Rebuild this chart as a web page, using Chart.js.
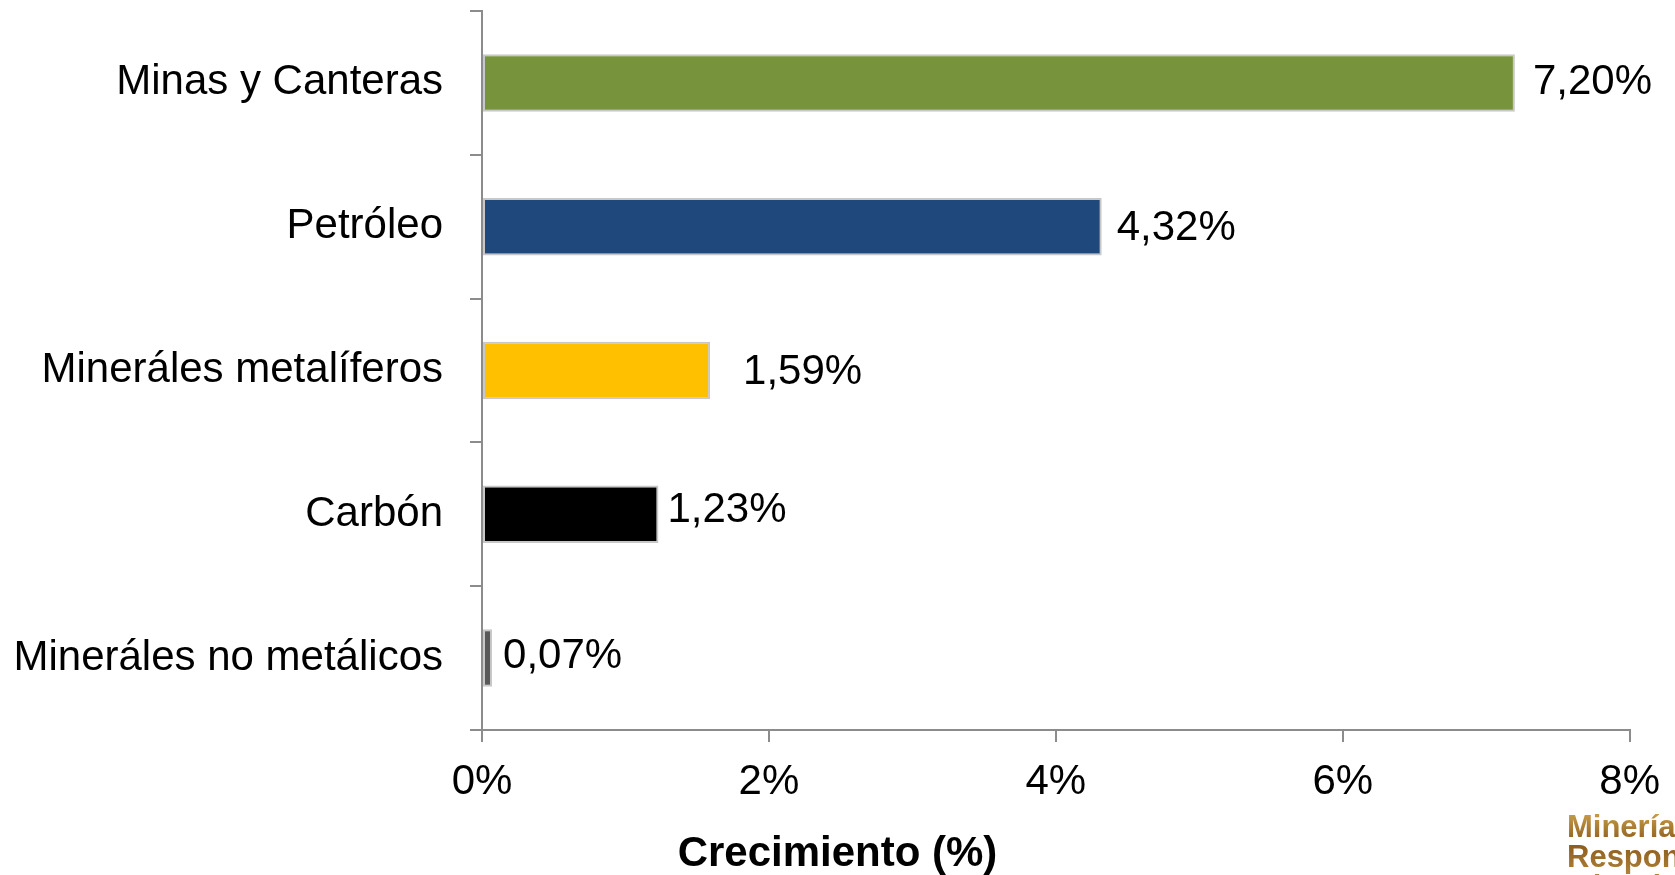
<!DOCTYPE html>
<html>
<head>
<meta charset="utf-8">
<script src="https://cdn.jsdelivr.net/npm/chart.js@4.4.1/dist/chart.umd.min.js"></script>
<style>
	body { margin: 0; background: #fff; }
	.chart-box { position: relative; width: 1675px; height: 875px; }
</style>
</head>
<body>
<div class="chart-box"><canvas id="bar-chart"></canvas></div>
<script>
var categories = ["Minas y Canteras", "Petróleo", "Mineráles metalíferos", "Carbón", "Mineráles no metálicos"];
var growth = [7.20, 4.32, 1.59, 1.23, 0.07];
var xTicks = [0, 2, 4, 6, 8];
var barColors = ["#77933C", "#1F497D", "#FFC000", "#000000", "#595959"];
// label nudges, as in the original slide
var labelGap = [18, 15, 33, 9, 11];
var labelDy = [0, 2, 2, -4, -2];

var fontName = "'Liberation Sans', Arial, sans-serif";
var axisGrey = "#8c8c8c";

function fmt(v){
	return v.toFixed(2).replace('.', ',') + '%';
}

var valueLabels = {
	id: 'valueLabels',
	afterDatasetsDraw: function(chart){
		var ctx = chart.ctx;
		var meta = chart.getDatasetMeta(0);
		ctx.save();
		ctx.font = '42px ' + fontName;
		ctx.fillStyle = '#000';
		ctx.textAlign = 'left';
		ctx.textBaseline = 'middle';
		meta.data.forEach(function(bar, i){
			ctx.fillText(fmt(growth[i]), bar.x + labelGap[i], bar.y + labelDy[i]);
		});
		ctx.restore();
	},
	afterDraw: function(chart){
		var ctx = chart.ctx;
		ctx.save();
		// axis title, centred on the whole slide rather than the plot
		ctx.font = 'bold 42px ' + fontName;
		ctx.fillStyle = '#000';
		ctx.textAlign = 'center';
		ctx.textBaseline = 'middle';
		ctx.fillText('Crecimiento (%)', chart.width / 2, 854);

		// logo "Minería Responsable", cut by the corner
		var g = ctx.createLinearGradient(0, 812, 0, 875);
		g.addColorStop(0, '#c9a04a');
		g.addColorStop(0.5, '#8a5a1c');
		g.addColorStop(1, '#b0843a');
		ctx.fillStyle = g;
		ctx.font = 'bold 31px ' + fontName;
		ctx.textAlign = 'left';
		ctx.textBaseline = 'alphabetic';
		ctx.fillText('Minería', 1567, 837);
		ctx.fillText('Responsable', 1567, 867);
		ctx.fillText('Minería', 1567, 897);
		ctx.restore();
	}
};

new Chart(document.getElementById('bar-chart'), {
	type: 'bar',
	data: {
		labels: categories,
		datasets: [{
			data: growth,
			backgroundColor: barColors,
			borderColor: '#c8c8c8',
			borderWidth: 2,
			borderSkipped: false,
			barPercentage: 0.4,
			categoryPercentage: 1
		}]
	},
	options: {
		indexAxis: 'y',
		responsive: true,
		maintainAspectRatio: false,
		animation: false,
		layout: { padding: { top: 11, right: 43, left: 0, bottom: 0 } },
		plugins: {
			legend: { display: false },
			tooltip: { enabled: false }
		},
		scales: {
			x: {
				min: 0,
				max: 8,
				afterFit: function(scale){ scale.height = 145; },
				afterBuildTicks: function(scale){
					scale.ticks = xTicks.map(function(v){ return { value: v }; });
				},
				ticks: {
					padding: 15,
					color: '#000',
					font: { family: fontName, size: 42 },
					callback: function(v){ return v + '%'; }
				},
				grid: {
					drawOnChartArea: false,
					drawTicks: true,
					tickLength: 12,
					color: axisGrey,
					lineWidth: 2
				},
				border: { display: true, color: axisGrey, width: 2 }
			},
			y: {
				afterFit: function(scale){
					scale.width = 482;
					scale.paddingTop = 0;
					scale.paddingBottom = 0;
				},
				ticks: {
					padding: 27,
					color: '#000',
					font: { family: fontName, size: 42 }
				},
				grid: {
					offset: true,
					drawOnChartArea: false,
					drawTicks: true,
					tickLength: 12,
					color: axisGrey,
					lineWidth: 2
				},
				border: { display: true, color: axisGrey, width: 2 }
			}
		}
	},
	plugins: [valueLabels]
});
</script>
</body>
</html>
